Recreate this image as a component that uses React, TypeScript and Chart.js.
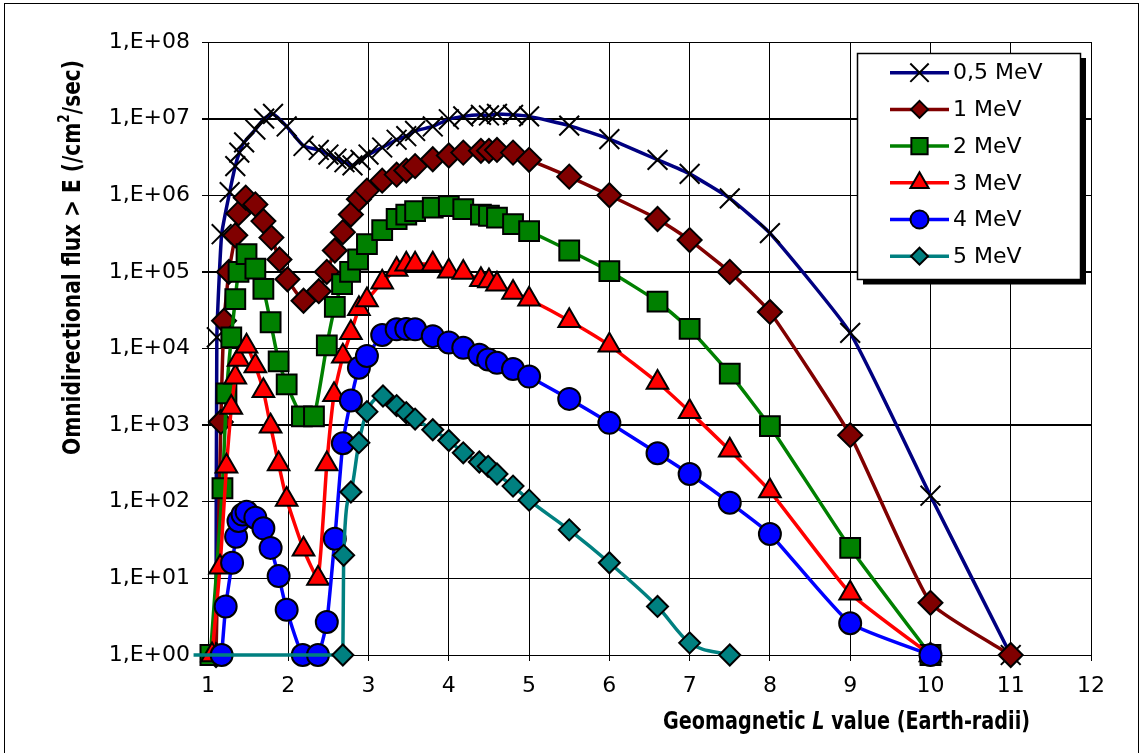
import React, { useEffect, useRef } from 'react';
import { Chart, registerables } from 'chart.js';

Chart.register(...registerables);

// ---------- data ----------
const seriesLabels = ['0,5 MeV', '1 MeV', '2 MeV', '3 MeV', '4 MeV', '5 MeV'];

const lValues05 = [1.1, 1.11, 1.17, 1.27, 1.34, 1.39, 1.45, 1.59, 1.7, 1.81, 1.98, 2.19, 2.38, 2.5, 2.6, 2.7, 2.8, 2.9, 3.0, 3.17, 3.35, 3.47, 3.58, 3.8, 4.0, 4.18, 4.4, 4.5, 4.6, 4.8, 5.0, 5.5, 6.0, 6.6, 7.0, 7.5, 8.0, 9.0, 10, 11];
const flux05 = [1, 1.4e4, 3.1e5, 1.1e6, 2.4e6, 3.6e6, 4.9e6, 7.2e6, 1.0e7, 1.15e7, 7.9e6, 4.4e6, 3.9e6, 3.4e6, 3.0e6, 2.7e6, 2.45e6, 2.9e6, 3.4e6, 4.2e6, 5.3e6, 5.9e6, 6.9e6, 7.9e6, 9.8e6, 1.07e7, 1.12e7, 1.1e7, 1.15e7, 1.12e7, 1.07e7, 8.1e6, 5.4e6, 2.9e6, 1.9e6, 9.1e5, 3.2e5, 1.6e4, 120, 1];

const lValues1 = [1.1, 1.16, 1.2, 1.26, 1.34, 1.38, 1.47, 1.59, 1.69, 1.79, 1.89, 1.99, 2.19, 2.38, 2.48, 2.58, 2.68, 2.78, 2.88, 2.98, 3.17, 3.35, 3.47, 3.58, 3.8, 4.0, 4.18, 4.4, 4.5, 4.6, 4.8, 5.0, 5.5, 6.0, 6.6, 7.0, 7.5, 8.0, 9.0, 10, 11];
const flux1 = [1, 1.1e3, 2.3e4, 1.0e5, 3.0e5, 5.8e5, 9.3e5, 7.6e5, 4.6e5, 2.8e5, 1.45e5, 8.0e4, 4.2e4, 5.6e4, 1.0e5, 1.9e5, 3.3e5, 5.6e5, 8.9e5, 1.15e6, 1.55e6, 1.86e6, 2.1e6, 2.4e6, 2.95e6, 3.3e6, 3.6e6, 3.8e6, 3.8e6, 3.9e6, 3.6e6, 2.9e6, 1.75e6, 1.0e6, 4.9e5, 2.6e5, 1.0e5, 3.0e4, 740, 4.8, 1];

const lValues2 = [1.03, 1.18, 1.23, 1.29, 1.34, 1.38, 1.48, 1.59, 1.69, 1.78, 1.88, 1.98, 2.17, 2.32, 2.48, 2.58, 2.67, 2.77, 2.87, 2.98, 3.17, 3.35, 3.47, 3.58, 3.8, 4.0, 4.18, 4.4, 4.5, 4.6, 4.8, 5.0, 5.5, 6.0, 6.6, 7.0, 7.5, 8.0, 9.0, 10];
const flux2 = [1, 150, 2.6e3, 1.4e4, 4.4e4, 1.0e5, 1.7e5, 1.1e5, 6.0e4, 2.2e4, 6.8e3, 3.4e3, 1.3e3, 1.3e3, 1.1e4, 3.5e4, 6.9e4, 1.0e5, 1.45e5, 2.3e5, 3.5e5, 4.9e5, 5.6e5, 6.2e5, 6.9e5, 7.2e5, 6.6e5, 5.6e5, 5.4e5, 5.1e5, 4.2e5, 3.4e5, 1.9e5, 1.02e5, 4.1e4, 1.8e4, 4.7e3, 970, 25, 1];

const lValues3 = [1.05, 1.15, 1.23, 1.29, 1.34, 1.38, 1.48, 1.59, 1.69, 1.78, 1.88, 1.98, 2.19, 2.37, 2.48, 2.57, 2.68, 2.78, 2.88, 2.98, 3.17, 3.35, 3.47, 3.58, 3.8, 4.0, 4.18, 4.4, 4.5, 4.6, 4.8, 5.0, 5.5, 6.0, 6.6, 7.0, 7.5, 8.0, 9.0, 10];
const flux3 = [1, 14, 290, 1.7e3, 4.2e3, 7.2e3, 1.07e4, 5.9e3, 2.8e3, 970, 310, 107, 24, 10, 310, 2.5e3, 7.9e3, 1.6e4, 3.3e4, 4.3e4, 7.3e4, 1.07e5, 1.26e5, 1.26e5, 1.26e5, 1.02e5, 9.8e4, 7.9e4, 7.6e4, 6.9e4, 5.4e4, 4.4e4, 2.3e4, 1.1e4, 3.6e3, 1.5e3, 470, 138, 6.4, 1];

const lValues4 = [1.17, 1.22, 1.3, 1.35, 1.38, 1.43, 1.48, 1.59, 1.69, 1.78, 1.88, 1.98, 2.18, 2.37, 2.48, 2.58, 2.68, 2.78, 2.88, 2.98, 3.17, 3.35, 3.47, 3.58, 3.8, 4.0, 4.18, 4.38, 4.49, 4.6, 4.8, 5.0, 5.5, 6.0, 6.6, 7.0, 7.5, 8.0, 9.0, 10];
const flux4 = [1, 4.3, 16, 35, 56, 68, 74, 62, 45, 25, 10.7, 3.9, 1, 1, 2.7, 33, 580, 2.1e3, 5.6e3, 8.0e3, 1.5e4, 1.78e4, 1.8e4, 1.78e4, 1.45e4, 1.2e4, 1.02e4, 8.3e3, 7.2e3, 6.5e3, 5.4e3, 4.3e3, 2.2e3, 1.07e3, 430, 230, 97, 38, 2.6, 1];

const lValues5 = [0.82, 2.68, 2.69, 2.78, 2.88, 2.98, 3.18, 3.35, 3.47, 3.58, 3.8, 4.0, 4.18, 4.38, 4.49, 4.6, 4.8, 5.0, 5.5, 6.0, 6.6, 7.0, 7.5];
const flux5 = [1, 1, 20, 134, 590, 1.5e3, 2.4e3, 1.8e3, 1.45e3, 1.2e3, 870, 630, 435, 330, 290, 230, 160, 105, 43, 16, 4.3, 1.44, 1.0];

const xTickValues = [1, 2, 3, 4, 5, 6, 7, 8, 9, 10, 11, 12];
const xTickLabels = ['1', '2', '3', '4', '5', '6', '7', '8', '9', '10', '11', '12'];
const yTickValues = [1, 10, 100, 1e3, 1e4, 1e5, 1e6, 1e7, 1e8];
const yTickLabels = ['1,E+00', '1,E+01', '1,E+02', '1,E+03', '1,E+04', '1,E+05', '1,E+06', '1,E+07', '1,E+08'];

const yTitleParts = ['Omnidirectional flux > E (/cm', '2', '/sec)'];
const xTitleParts = ['Geomagnetic ', 'L', ' value (Earth-radii)'];

// ---------- styles ----------
const FONT = '"DejaVu Sans", Arial, sans-serif';
const seriesStyles = [
  { line: '#000080', fill: '#000000', shape: 'crossRot', radius: 14, legendRadius: 13, monotone: false },
  { line: '#800000', fill: '#800000', shape: 'rectRot', radius: 12, legendRadius: 8.5, monotone: false },
  { line: '#008000', fill: '#008000', shape: 'rect', radius: 14, legendRadius: 11.5, monotone: false },
  { line: '#FF0000', fill: '#FF0000', shape: 'triangle', radius: 12.5, legendRadius: 10.5, monotone: false },
  { line: '#0000FF', fill: '#0000FF', shape: 'circle', radius: 11, legendRadius: 9, monotone: false },
  { line: '#008080', fill: '#008080', shape: 'rectRot', radius: 10.5, legendRadius: 8.5, monotone: true },
];

const seriesData = [
  [lValues05, flux05],
  [lValues1, flux1],
  [lValues2, flux2],
  [lValues3, flux3],
  [lValues4, flux4],
  [lValues5, flux5],
];

function drawMarker(ctx: CanvasRenderingContext2D, shape: string, x: number, y: number, r: number, fill: string) {
  ctx.save();
  ctx.lineWidth = 2;
  ctx.strokeStyle = '#000';
  ctx.fillStyle = fill;
  ctx.beginPath();
  if (shape === 'crossRot') {
    const d = r * Math.SQRT1_2;
    ctx.moveTo(x - d, y - d);
    ctx.lineTo(x + d, y + d);
    ctx.moveTo(x + d, y - d);
    ctx.lineTo(x - d, y + d);
    ctx.stroke();
    ctx.restore();
    return;
  }
  if (shape === 'rectRot') {
    ctx.moveTo(x, y - r);
    ctx.lineTo(x + r, y);
    ctx.lineTo(x, y + r);
    ctx.lineTo(x - r, y);
    ctx.closePath();
  } else if (shape === 'rect') {
    const s = r * Math.SQRT1_2;
    ctx.rect(x - s, y - s, 2 * s, 2 * s);
  } else if (shape === 'triangle') {
    ctx.moveTo(x, y - r);
    ctx.lineTo(x + r * 0.866, y + r * 0.5);
    ctx.lineTo(x - r * 0.866, y + r * 0.5);
    ctx.closePath();
  } else {
    ctx.arc(x, y, r, 0, Math.PI * 2);
  }
  ctx.fill();
  ctx.stroke();
  ctx.restore();
}

type Seg = { text: string; font: string; dy: number };

function drawSegments(ctx: CanvasRenderingContext2D, segs: Seg[], cx: number, cy: number, targetWidth: number, rotate: boolean) {
  ctx.save();
  ctx.translate(cx, cy);
  if (rotate) ctx.rotate(-Math.PI / 2);
  const widths = segs.map((s) => {
    ctx.font = s.font;
    return ctx.measureText(s.text).width;
  });
  const total = widths.reduce((a, b) => a + b, 0);
  ctx.scale(targetWidth / total, 1);
  ctx.fillStyle = '#000';
  ctx.textBaseline = 'middle';
  ctx.textAlign = 'left';
  let x = -total / 2;
  segs.forEach((s, i) => {
    ctx.font = s.font;
    ctx.fillText(s.text, x, s.dy);
    x += widths[i];
  });
  ctx.restore();
}

const decorPlugin = {
  id: 'decor',
  afterDraw(chart: any) {
    const ctx: CanvasRenderingContext2D = chart.ctx;
    // outer frame
    ctx.save();
    ctx.strokeStyle = '#000';
    ctx.lineWidth = 1;
    ctx.strokeRect(4.5, 3.5, 1134, 770);
    ctx.restore();

    // axis titles
    const b = `bold 25px ${FONT}`;
    drawSegments(ctx, [
      { text: yTitleParts[0], font: b, dy: 0 },
      { text: yTitleParts[1], font: `bold 15px ${FONT}`, dy: -8 },
      { text: yTitleParts[2], font: b, dy: 0 },
    ], 73, 257.5, 395, true);
    drawSegments(ctx, [
      { text: xTitleParts[0], font: b, dy: 0 },
      { text: xTitleParts[1], font: `italic bold 25px ${FONT}`, dy: 0 },
      { text: xTitleParts[2], font: b, dy: 0 },
    ], 846.5, 722, 367, false);

    // legend
    ctx.save();
    ctx.fillStyle = '#000';
    ctx.fillRect(863, 58, 1086 - 863, 284.5 - 58);
    ctx.fillStyle = '#fff';
    ctx.fillRect(857.5, 53.5, 223, 226);
    ctx.strokeStyle = '#000';
    ctx.lineWidth = 1.5;
    ctx.strokeRect(857.5, 53.5, 223, 226);
    seriesLabels.forEach((label, i) => {
      const st = seriesStyles[i];
      const y = 72.7 + i * 36.7;
      ctx.strokeStyle = st.line;
      ctx.lineWidth = 3.5;
      ctx.beginPath();
      ctx.moveTo(890, y);
      ctx.lineTo(949, y);
      ctx.stroke();
      drawMarker(ctx, st.shape, 919.5, y, st.legendRadius, st.fill);
      ctx.fillStyle = '#000';
      ctx.font = `22px ${FONT}`;
      ctx.textBaseline = 'middle';
      ctx.textAlign = 'left';
      ctx.fillText(label, 953, y + 1);
    });
    ctx.restore();
  },
};

export default function App() {
  const ref = useRef<HTMLCanvasElement | null>(null);

  useEffect(() => {
    if (!ref.current) return;
    const datasets = seriesData.map(([xs, ys], i) => {
      const st = seriesStyles[i];
      return {
        label: seriesLabels[i],
        data: (xs as number[]).map((x, j) => ({ x, y: (ys as number[])[j] })),
        borderColor: st.line,
        borderWidth: 3.5,
        backgroundColor: st.fill,
        pointStyle: st.shape,
        pointRadius: i === 5 ? (c: any) => (c.dataIndex === 0 ? 0 : st.radius) : st.radius,
        pointBorderColor: '#000',
        pointBackgroundColor: st.fill,
        pointBorderWidth: 2,
        tension: st.monotone ? 0 : 0.15,
        cubicInterpolationMode: st.monotone ? 'monotone' : 'default',
        fill: false,
        clip: false,
        order: 6 - i,
      };
    });

    const chart = new Chart(ref.current, {
      type: 'line',
      data: { datasets } as any,
      options: {
        animation: false,
        responsive: false,
        devicePixelRatio: 1,
        events: [],
        layout: { padding: { left: 0, top: 42, right: 53, bottom: 0 } },
        plugins: {
          legend: { display: false },
          tooltip: { enabled: false },
          title: { display: false },
        },
        scales: {
          x: {
            type: 'linear',
            min: 1,
            max: 12,
            afterBuildTicks: (s: any) => {
              s.ticks = xTickValues.map((v) => ({ value: v }));
            },
            afterFit: (s: any) => {
              s.height = 98;
            },
            ticks: {
              callback: (v: any) => {
                const k = xTickValues.indexOf(Number(v));
                return k >= 0 ? xTickLabels[k] : '';
              },
              font: { family: FONT, size: 22 },
              color: '#000',
              padding: 12,
              maxRotation: 0,
              autoSkip: false,
            },
            grid: { color: '#000', lineWidth: 1, tickLength: 6 },
            border: { color: '#000', width: 1 },
          },
          y: {
            type: 'logarithmic',
            min: 1,
            max: 1e8,
            afterBuildTicks: (s: any) => {
              s.ticks = yTickValues.map((v) => ({ value: v }));
            },
            afterFit: (s: any) => {
              s.width = 208;
            },
            ticks: {
              callback: (v: any) => {
                const k = yTickValues.findIndex((t) => Math.abs(t - Number(v)) < t * 1e-6);
                return k >= 0 ? yTickLabels[k] : '';
              },
              font: { family: FONT, size: 22 },
              color: '#000',
              padding: 12,
              autoSkip: false,
            },
            grid: {
              color: '#000',
              lineWidth: (c: any) => (c.tick && [1e7, 1e5, 1e3].includes(c.tick.value) ? 2 : 1),
              tickLength: 6,
            },
            border: { color: '#000', width: 1 },
          },
        },
      } as any,
      plugins: [decorPlugin],
    });
    return () => chart.destroy();
  }, []);

  return (
    <div style={{ position: 'absolute', left: 0, top: 0, width: 1144, height: 753, background: '#fff' }}>
      <canvas ref={ref} width={1144} height={753} style={{ display: 'block' }} />
    </div>
  );
}
